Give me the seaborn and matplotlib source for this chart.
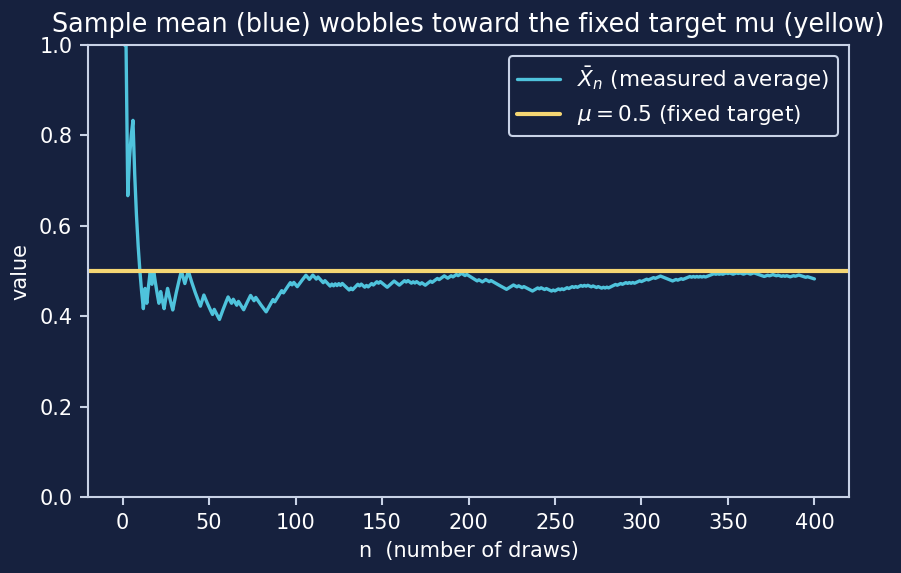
import numpy as np
import pandas as pd
import matplotlib
matplotlib.use("Agg")
import matplotlib.pyplot as plt
import seaborn as sns

draw_blocks = [
    "1101110000", "0010110100", "0100110001", "1111001100", "0000011000",
    "0010001111", "1001001000", "1111001000", "0001111011", "1101111010",
    "0111110011", "0010001000", "1010101000", "0101110100", "1011011010",
    "0001111000", "1110100101", "0010011101", "1101110011", "0110110010",
    "0000010011", "0010000000", "0011110010", "0100000111", "0100100010",
    "1101011011", "0101101010", "0100100101", "0111101101", "1010101110",
    "1110111011", "1000000011", "0110111101", "0101010111", "1101010110",
    "1001101001", "1001100000", "0110110010", "0101001101", "1000010000",
]
mu = 0.5
x_ticks = [0, 50, 100, 150, 200, 250, 300, 350, 400]
y_ticks = [0.0, 0.2, 0.4, 0.6, 0.8, 1.0]

draws = np.array([int(c) for b in draw_blocks for c in b])
n = np.arange(1, len(draws) + 1)
running_mean = np.cumsum(draws) / n
df = pd.DataFrame({"n": n, "mean": running_mean})

BG = "#16213e"
FG = "#ffffff"
SPINE = "#c8d2e6"
CYAN = "#4fc3dc"
YELLOW = "#f5d673"

sns.set_theme(style="dark")
plt.rcParams["font.family"] = ["DejaVu Sans"]

fig, ax = plt.subplots(figsize=(901 / 150, 573 / 150), dpi=150)
fig.patch.set_facecolor(BG)
ax.set_facecolor(BG)
fig.subplots_adjust(left=88 / 901, right=849 / 901, top=1 - 45 / 573, bottom=1 - 497 / 573)

sns.lineplot(data=df, x="n", y="mean", ax=ax, color=CYAN, linewidth=1.6,
             label=r"$\bar{X}_n$ (measured average)")
ax.axhline(mu, color=YELLOW, linewidth=2.0, label=r"$\mu = 0.5$ (fixed target)")

ax.set_ylim(0, 1)
ax.set_xlim(-20, 420)
ax.set_xticks(x_ticks)
ax.set_yticks(y_ticks)
ax.grid(False)
for s in ax.spines.values():
    s.set_visible(True)
    s.set_color(SPINE)
    s.set_linewidth(1.0)
ax.tick_params(axis="both", colors=SPINE, labelcolor=FG, labelsize=10,
               length=4, width=1, direction="out", bottom=True, left=True)

ax.set_xlabel("n  (number of draws)", color=FG, fontsize=10)
ax.set_ylabel("value", color=FG, fontsize=10)
ax.set_title("Sample mean (blue) wobbles toward the fixed target mu (yellow)",
             color=FG, fontsize=12.25)

leg = ax.legend(loc="upper right", fontsize=10.3, facecolor=BG, edgecolor=SPINE,
                framealpha=1.0, fancybox=True)
for t in leg.get_texts():
    t.set_color(FG)

fig.savefig("out.png", dpi=150, facecolor=BG)
